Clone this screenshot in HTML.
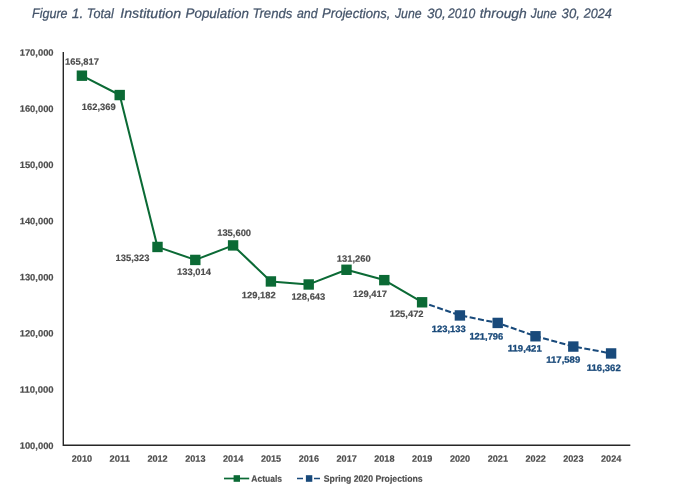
<!DOCTYPE html>
<html><head><meta charset="utf-8"><title>Figure 1</title>
<style>
html,body{margin:0;padding:0;background:#fff;}
body{width:679px;height:498px;overflow:hidden;font-family:"Liberation Sans",sans-serif;}
svg{display:block;will-change:transform;font-family:"Liberation Sans",sans-serif;}
.t{font-weight:bold;font-size:9.2px;fill:#4d4d4d;stroke:#4d4d4d;stroke-width:0.18px;}
.b{font-weight:bold;font-size:9.2px;fill:#1a4a7a;stroke:#1a4a7a;stroke-width:0.3px;}
</style></head><body>
<svg width="679" height="498" viewBox="0 0 679 498">
<rect width="679" height="498" fill="#fff"/><g>
<text x="32.08" y="17.9" font-style="italic" font-size="13.5" fill="#44546a" stroke="#44546a" stroke-width="0.25" textLength="35.48" lengthAdjust="spacingAndGlyphs" transform="rotate(0.1 49.8 14)">Figure</text>
<text x="71.72" y="17.9" font-style="italic" font-size="13.5" fill="#44546a" stroke="#44546a" stroke-width="0.25" textLength="11.53" lengthAdjust="spacingAndGlyphs" transform="rotate(0.1 76.8 14)">1.</text>
<text x="86.86" y="17.9" font-style="italic" font-size="13.5" fill="#44546a" stroke="#44546a" stroke-width="0.25" textLength="26.90" lengthAdjust="spacingAndGlyphs" transform="rotate(0.1 101.1 14)">Total</text>
<text x="120.27" y="17.9" font-style="italic" font-size="13.5" fill="#44546a" stroke="#44546a" stroke-width="0.25" textLength="60.81" lengthAdjust="spacingAndGlyphs" transform="rotate(0.1 150.6 14)">Institution</text>
<text x="185.54" y="17.9" font-style="italic" font-size="13.5" fill="#44546a" stroke="#44546a" stroke-width="0.25" textLength="63.33" lengthAdjust="spacingAndGlyphs" transform="rotate(0.1 217.1 14)">Population</text>
<text x="252.42" y="17.9" font-style="italic" font-size="13.5" fill="#44546a" stroke="#44546a" stroke-width="0.25" textLength="39.92" lengthAdjust="spacingAndGlyphs" transform="rotate(0.1 272.8 14)">Trends</text>
<text x="296.96" y="17.9" font-style="italic" font-size="13.5" fill="#44546a" stroke="#44546a" stroke-width="0.25" textLength="20.65" lengthAdjust="spacingAndGlyphs" transform="rotate(0.1 307.5 14)">and</text>
<text x="322.11" y="17.9" font-style="italic" font-size="13.5" fill="#44546a" stroke="#44546a" stroke-width="0.25" textLength="68.36" lengthAdjust="spacingAndGlyphs" transform="rotate(0.1 355.6 14)">Projections,</text>
<text x="394.92" y="17.9" font-style="italic" font-size="13.5" fill="#44546a" stroke="#44546a" stroke-width="0.25" textLength="26.68" lengthAdjust="spacingAndGlyphs" transform="rotate(0.1 408.1 14)">June</text>
<text x="426.92" y="17.9" font-style="italic" font-size="13.5" fill="#44546a" stroke="#44546a" stroke-width="0.25" textLength="18.87" lengthAdjust="spacingAndGlyphs" transform="rotate(0.1 435.6 14)">30,</text>
<text x="448.11" y="17.9" font-style="italic" font-size="13.5" fill="#44546a" stroke="#44546a" stroke-width="0.25" textLength="27.07" lengthAdjust="spacingAndGlyphs" transform="rotate(0.1 461.8 14)">2010</text>
<text x="479.79" y="17.9" font-style="italic" font-size="13.5" fill="#44546a" stroke="#44546a" stroke-width="0.25" textLength="46.98" lengthAdjust="spacingAndGlyphs" transform="rotate(0.1 503.3 14)">through</text>
<text x="530.73" y="17.9" font-style="italic" font-size="13.5" fill="#44546a" stroke="#44546a" stroke-width="0.25" textLength="25.93" lengthAdjust="spacingAndGlyphs" transform="rotate(0.1 543.5 14)">June</text>
<text x="561.64" y="17.9" font-style="italic" font-size="13.5" fill="#44546a" stroke="#44546a" stroke-width="0.25" textLength="18.22" lengthAdjust="spacingAndGlyphs" transform="rotate(0.1 570.3 14)">30,</text>
<text x="583.89" y="17.9" font-style="italic" font-size="13.5" fill="#44546a" stroke="#44546a" stroke-width="0.25" textLength="28.01" lengthAdjust="spacingAndGlyphs" transform="rotate(0.1 597.5 14)">2024</text>
<path d="M63.3 52.0 V445.3 H630.3" fill="none" stroke="#262626" stroke-width="1.4"/>
<text class="t" x="19.7" y="55.8" textLength="33.9" lengthAdjust="spacingAndGlyphs" transform="rotate(0.1 36.7 52.8)">170,000</text>
<text class="t" x="19.7" y="111.9" textLength="33.9" lengthAdjust="spacingAndGlyphs" transform="rotate(0.1 36.7 108.9)">160,000</text>
<text class="t" x="19.7" y="168.1" textLength="33.9" lengthAdjust="spacingAndGlyphs" transform="rotate(0.1 36.7 165.1)">150,000</text>
<text class="t" x="19.7" y="224.2" textLength="33.9" lengthAdjust="spacingAndGlyphs" transform="rotate(0.1 36.7 221.2)">140,000</text>
<text class="t" x="19.7" y="280.4" textLength="33.9" lengthAdjust="spacingAndGlyphs" transform="rotate(0.1 36.7 277.4)">130,000</text>
<text class="t" x="19.7" y="336.6" textLength="33.9" lengthAdjust="spacingAndGlyphs" transform="rotate(0.1 36.7 333.6)">120,000</text>
<text class="t" x="19.7" y="392.7" textLength="33.9" lengthAdjust="spacingAndGlyphs" transform="rotate(0.1 36.7 389.7)">110,000</text>
<text class="t" x="19.7" y="448.9" textLength="33.9" lengthAdjust="spacingAndGlyphs" transform="rotate(0.1 36.7 445.9)">100,000</text>
<text class="t" x="71.8" y="461.8" textLength="20.3" lengthAdjust="spacingAndGlyphs" transform="rotate(0.1 82.0 458.8)">2010</text>
<text class="t" x="109.6" y="461.8" textLength="20.3" lengthAdjust="spacingAndGlyphs" transform="rotate(0.1 119.8 458.8)">2011</text>
<text class="t" x="147.4" y="461.8" textLength="20.3" lengthAdjust="spacingAndGlyphs" transform="rotate(0.1 157.6 458.8)">2012</text>
<text class="t" x="185.2" y="461.8" textLength="20.3" lengthAdjust="spacingAndGlyphs" transform="rotate(0.1 195.4 458.8)">2013</text>
<text class="t" x="223.0" y="461.8" textLength="20.3" lengthAdjust="spacingAndGlyphs" transform="rotate(0.1 233.2 458.8)">2014</text>
<text class="t" x="260.9" y="461.8" textLength="20.3" lengthAdjust="spacingAndGlyphs" transform="rotate(0.1 271.0 458.8)">2015</text>
<text class="t" x="298.7" y="461.8" textLength="20.3" lengthAdjust="spacingAndGlyphs" transform="rotate(0.1 308.8 458.8)">2016</text>
<text class="t" x="336.5" y="461.8" textLength="20.3" lengthAdjust="spacingAndGlyphs" transform="rotate(0.1 346.6 458.8)">2017</text>
<text class="t" x="374.2" y="461.8" textLength="20.3" lengthAdjust="spacingAndGlyphs" transform="rotate(0.1 384.4 458.8)">2018</text>
<text class="t" x="412.1" y="461.8" textLength="20.3" lengthAdjust="spacingAndGlyphs" transform="rotate(0.1 422.2 458.8)">2019</text>
<text class="t" x="449.9" y="461.8" textLength="20.3" lengthAdjust="spacingAndGlyphs" transform="rotate(0.1 460.0 458.8)">2020</text>
<text class="t" x="487.7" y="461.8" textLength="20.3" lengthAdjust="spacingAndGlyphs" transform="rotate(0.1 497.8 458.8)">2021</text>
<text class="t" x="525.5" y="461.8" textLength="20.3" lengthAdjust="spacingAndGlyphs" transform="rotate(0.1 535.6 458.8)">2022</text>
<text class="t" x="563.2" y="461.8" textLength="20.3" lengthAdjust="spacingAndGlyphs" transform="rotate(0.1 573.4 458.8)">2023</text>
<text class="t" x="601.0" y="461.8" textLength="20.3" lengthAdjust="spacingAndGlyphs" transform="rotate(0.1 611.2 458.8)">2024</text>
<polyline points="422.1,302.2 459.9,315.4 497.7,322.9 535.5,336.2 573.3,346.5 611.1,353.4" fill="none" stroke="#194a7b" stroke-width="2.05" stroke-dasharray="6 2.5" stroke-dashoffset="1"/>
<polyline points="81.9,75.6 119.7,95.0 157.5,246.9 195.3,259.9 233.1,245.4 270.9,281.4 308.7,284.4 346.5,269.7 384.3,280.1 422.1,302.2" fill="none" stroke="#0b6a35" stroke-width="2.05" stroke-linejoin="round"/>
<rect x="76.70" y="70.49" width="10.4" height="10.4" fill="#0b6a35"/>
<rect x="114.50" y="89.86" width="10.4" height="10.4" fill="#0b6a35"/>
<rect x="152.30" y="241.76" width="10.4" height="10.4" fill="#0b6a35"/>
<rect x="190.10" y="254.73" width="10.4" height="10.4" fill="#0b6a35"/>
<rect x="227.90" y="240.21" width="10.4" height="10.4" fill="#0b6a35"/>
<rect x="265.70" y="276.25" width="10.4" height="10.4" fill="#0b6a35"/>
<rect x="303.50" y="279.28" width="10.4" height="10.4" fill="#0b6a35"/>
<rect x="341.30" y="264.58" width="10.4" height="10.4" fill="#0b6a35"/>
<rect x="379.10" y="274.93" width="10.4" height="10.4" fill="#0b6a35"/>
<rect x="416.90" y="297.09" width="10.4" height="10.4" fill="#0b6a35"/>
<rect x="454.70" y="310.23" width="10.4" height="10.4" fill="#194a7b"/>
<rect x="492.50" y="317.73" width="10.4" height="10.4" fill="#194a7b"/>
<rect x="530.30" y="331.07" width="10.4" height="10.4" fill="#194a7b"/>
<rect x="568.10" y="341.36" width="10.4" height="10.4" fill="#194a7b"/>
<rect x="605.90" y="348.25" width="10.4" height="10.4" fill="#194a7b"/>
<text class="t" x="65.0" y="64.8" textLength="33.9" lengthAdjust="spacingAndGlyphs" transform="rotate(0.1 82.0 61.8)">165,817</text>
<text class="t" x="81.8" y="110.0" textLength="33.9" lengthAdjust="spacingAndGlyphs" transform="rotate(0.1 98.7 107.0)">162,369</text>
<text class="t" x="115.5" y="261.1" textLength="33.9" lengthAdjust="spacingAndGlyphs" transform="rotate(0.1 132.4 258.1)">135,323</text>
<text class="t" x="177.1" y="274.9" textLength="33.9" lengthAdjust="spacingAndGlyphs" transform="rotate(0.1 194.0 271.9)">133,014</text>
<text class="t" x="217.2" y="235.9" textLength="33.9" lengthAdjust="spacingAndGlyphs" transform="rotate(0.1 234.1 232.9)">135,600</text>
<text class="t" x="241.8" y="298.2" textLength="33.9" lengthAdjust="spacingAndGlyphs" transform="rotate(0.1 258.8 295.2)">129,182</text>
<text class="t" x="291.4" y="299.7" textLength="33.9" lengthAdjust="spacingAndGlyphs" transform="rotate(0.1 308.3 296.7)">128,643</text>
<text class="t" x="336.8" y="261.8" textLength="33.9" lengthAdjust="spacingAndGlyphs" transform="rotate(0.1 353.7 258.8)">131,260</text>
<text class="t" x="353.1" y="297.0" textLength="33.9" lengthAdjust="spacingAndGlyphs" transform="rotate(0.1 370.0 294.0)">129,417</text>
<text class="t" x="389.7" y="316.9" textLength="33.9" lengthAdjust="spacingAndGlyphs" transform="rotate(0.1 406.6 313.9)">125,472</text>
<text class="b" x="431.8" y="332.0" textLength="33.9" lengthAdjust="spacingAndGlyphs" transform="rotate(0.1 448.7 329.0)">123,133</text>
<text class="b" x="469.4" y="339.4" textLength="33.9" lengthAdjust="spacingAndGlyphs" transform="rotate(0.1 486.3 336.4)">121,796</text>
<text class="b" x="507.8" y="351.4" textLength="33.9" lengthAdjust="spacingAndGlyphs" transform="rotate(0.1 524.7 348.4)">119,421</text>
<text class="b" x="546.3" y="362.8" textLength="33.9" lengthAdjust="spacingAndGlyphs" transform="rotate(0.1 563.3 359.8)">117,589</text>
<text class="b" x="586.8" y="370.9" textLength="33.9" lengthAdjust="spacingAndGlyphs" transform="rotate(0.1 603.8 367.9)">116,362</text>
<line x1="224" y1="478.5" x2="249.2" y2="478.5" stroke="#0b6a35" stroke-width="1.7"/>
<rect x="233.6" y="475.2" width="6.4" height="6.6" fill="#0b6a35"/>
<text class="t" x="251.3" y="481.8" textLength="30.8" lengthAdjust="spacingAndGlyphs" transform="rotate(0.1 266 478)">Actuals</text>
<path d="M297 478.5H303M314 478.5H320" stroke="#194a7b" stroke-width="1.7"/>
<rect x="305.9" y="475.2" width="6.4" height="6.6" fill="#194a7b"/>
<text class="t" x="323.8" y="481.8" textLength="98.9" lengthAdjust="spacingAndGlyphs" transform="rotate(0.05 373 478)">Spring 2020 Projections</text>
</g></svg></body></html>
